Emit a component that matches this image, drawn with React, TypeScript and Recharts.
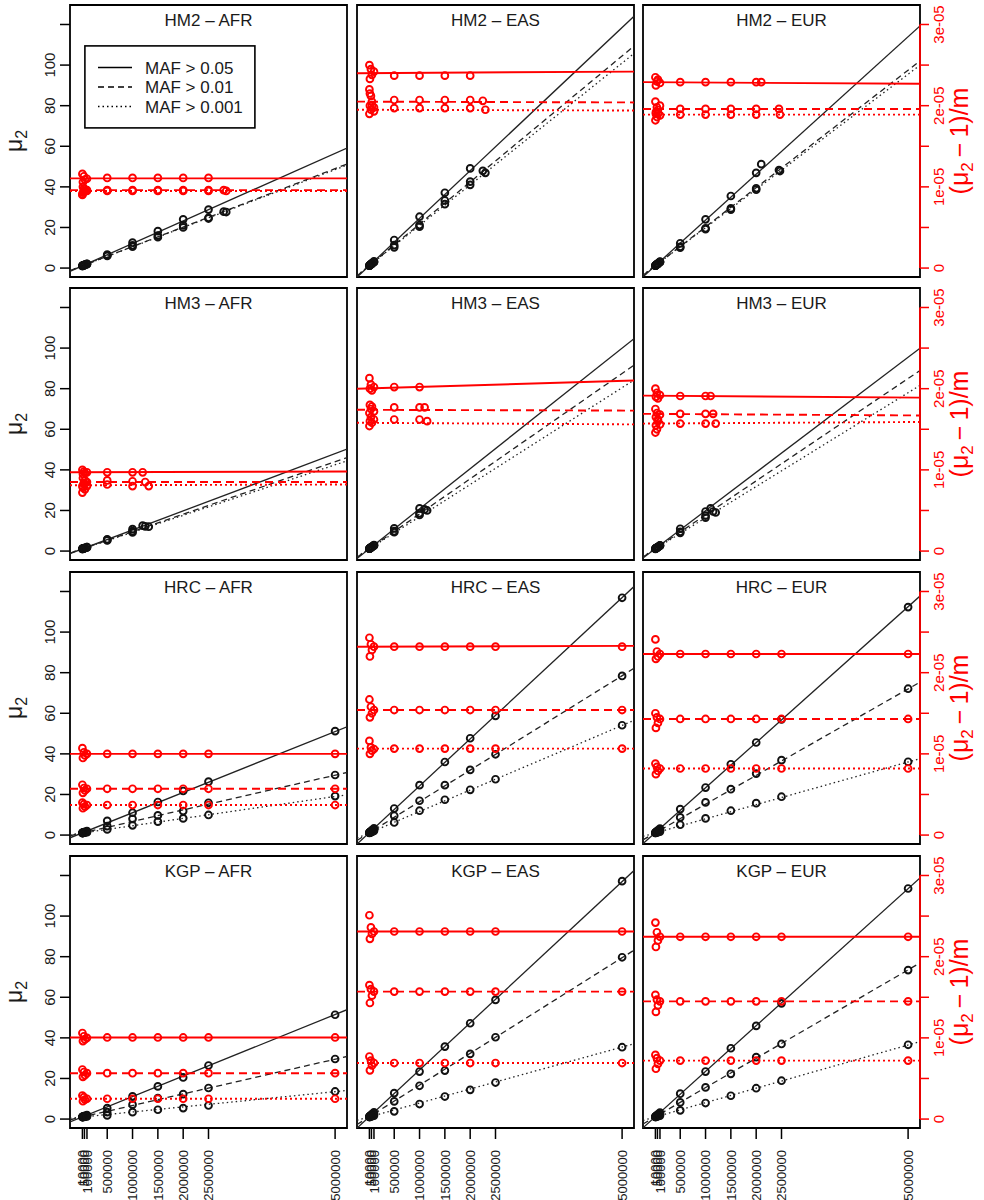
import {
    ComposedChart,
    Scatter,
    XAxis,
    YAxis,
    ReferenceLine,
    ReferenceArea,
    Legend
} from 'recharts';

const FONT = '"Liberation Sans", Arial, Helvetica, sans-serif';
const RED = '#ff0000';
const INK = '#1a1a1a';

// axis ranges (right axis is in units of 1e-5; 3e-05 sits level with 120)
const X_MIN = -235000;
const X_MAX = 5235000;
const Y_MIN = -4.4;
const Y_MAX = 129.6;
const R_MIN = Y_MIN / 40;
const R_MAX = Y_MAX / 40;

const X_TICKS = [10000, 50000, 100000, 500000, 1000000, 1500000, 2000000, 2500000, 5000000];
const Y_TICKS = [0, 20, 40, 60, 80, 100, 120];
const R_TICKS = [0, 0.5, 1, 1.5, 2, 2.5, 3];
const R_LABELS: Record<number, string> = { 0: '0', 1: '1e-05', 2: '2e-05', 3: '3e-05' };

const MAF_LABELS = ['MAF > 0.05', 'MAF > 0.01', 'MAF > 0.001'];

const SMALL_M = [10000, 20000, 40000, 60000, 100000];
const FULL_M = [10000, 20000, 40000, 60000, 100000, 500000, 1000000, 1500000, 2000000, 2500000, 5000000];

// ---- HM2 ----
const hm2AfrM = [
    [...SMALL_M, 500000, 1000000, 1500000, 2000000, 2500000],
    [...SMALL_M, 500000, 1000000, 1500000, 2000000, 2500000, 2800000],
    [...SMALL_M, 500000, 1000000, 1500000, 2000000, 2500000, 2850000],
];
const hm2AfrMu = [
    [1.1, 1.2, 1.5, 1.7, 2.1, 6.6, 12.5, 18.2, 24.0, 28.8],
    [1.1, 1.2, 1.4, 1.6, 2.0, 6.3, 11.2, 16.0, 21.0, 24.8, 27.8],
    [1.1, 1.2, 1.4, 1.6, 1.9, 6.0, 10.5, 15.2, 20.0, 24.4, 27.6],
];
const hm2AfrR = [
    [1.16, 1.06, 1.13, 1.09, 1.1, 1.11, 1.11, 1.11, 1.11, 1.11],
    [0.91, 1.0, 0.94, 0.97, 0.96, 0.96, 0.96, 0.96, 0.96, 0.96, 0.96],
    [0.9, 0.93, 0.98, 0.95, 0.95, 0.95, 0.95, 0.95, 0.95, 0.95, 0.95],
];
const hm2AfrFit = [[1, 11.1], [1, 9.6], [1, 9.5]];
const hm2AfrLevel = [[1.105, 1.105], [0.96, 0.96], [0.95, 0.95]];

const hm2EasM = [
    [...SMALL_M, 500000, 1000000, 1500000, 2000000],
    [...SMALL_M, 500000, 1000000, 1500000, 2000000, 2250000],
    [...SMALL_M, 500000, 1000000, 1500000, 2000000, 2300000],
];
const hm2EasMu = [
    [1.2, 1.5, 1.9, 2.4, 3.3, 13.8, 25.3, 37.1, 49.1],
    [1.2, 1.4, 1.8, 2.2, 3.0, 11.3, 21.2, 33.3, 42.6, 47.9],
    [1.2, 1.4, 1.8, 2.2, 2.9, 10.2, 20.4, 31.5, 41.0, 46.9],
];
const hm2EasR = [
    [2.5, 2.33, 2.45, 2.38, 2.42, 2.37, 2.37, 2.37, 2.37],
    [2.2, 2.0, 2.12, 2.05, 1.98, 2.07, 2.07, 2.07, 2.07, 2.06],
    [1.9, 2.15, 1.95, 2.0, 1.93, 1.97, 1.97, 1.97, 1.97, 1.95],
];
const hm2EasFit = [[1, 23.5], [1, 20.7], [1, 20.0]];
const hm2EasLevel = [[2.4, 2.42], [2.05, 2.04], [1.95, 1.94]];

const hm2EurM = [
    [...SMALL_M, 500000, 1000000, 1500000, 2000000, 2100000],
    [...SMALL_M, 500000, 1000000, 1500000, 2000000, 2450000],
    [...SMALL_M, 500000, 1000000, 1500000, 2000000, 2470000],
];
const hm2EurMu = [
    [1.2, 1.4, 1.9, 2.3, 3.2, 12.2, 24.0, 35.5, 46.9, 51.2],
    [1.2, 1.4, 1.8, 2.2, 3.0, 10.5, 19.6, 29.4, 39.3, 48.3],
    [1.2, 1.4, 1.8, 2.1, 2.9, 10.1, 19.2, 28.8, 38.6, 47.8],
];
const hm2EurR = [
    [2.35, 2.25, 2.3, 2.32, 2.28, 2.29, 2.29, 2.29, 2.29, 2.29],
    [2.05, 1.9, 1.98, 1.95, 2.0, 1.96, 1.96, 1.96, 1.96, 1.96],
    [1.82, 1.92, 1.86, 1.9, 1.88, 1.89, 1.89, 1.89, 1.89, 1.89],
];
const hm2EurFit = [[1, 22.6], [1, 19.3], [1, 18.9]];
const hm2EurLevel = [[2.29, 2.27], [1.96, 1.96], [1.89, 1.89]];

// ---- HM3 ----
const hm3AfrM = [
    [...SMALL_M, 500000, 1000000, 1200000],
    [...SMALL_M, 500000, 1000000, 1250000],
    [...SMALL_M, 500000, 1000000, 1320000],
];
const hm3AfrMu = [
    [1.1, 1.2, 1.4, 1.6, 1.9, 5.8, 10.8, 12.5],
    [1.1, 1.2, 1.4, 1.5, 1.9, 5.5, 9.8, 12.2],
    [1.1, 1.2, 1.3, 1.5, 1.8, 5.2, 9.2, 12.0],
];
const hm3AfrR = [
    [1.0, 0.95, 0.98, 0.96, 0.97, 0.97, 0.97, 0.97],
    [0.8, 0.9, 0.84, 0.87, 0.85, 0.87, 0.86, 0.85],
    [0.72, 0.78, 0.83, 0.76, 0.8, 0.82, 0.8, 0.8],
];
const hm3AfrFit = [[1, 9.4], [1, 8.6], [1, 8.3]];
const hm3AfrLevel = [[0.97, 0.98], [0.85, 0.85], [0.81, 0.82]];

const hm3EasM = [
    [...SMALL_M, 500000, 1000000],
    [...SMALL_M, 500000, 1000000, 1100000],
    [...SMALL_M, 500000, 1000000, 1150000],
];
const hm3EasMu = [
    [1.2, 1.4, 1.8, 2.2, 3.0, 11.2, 21.0],
    [1.2, 1.4, 1.7, 2.1, 2.8, 9.8, 18.6, 20.5],
    [1.2, 1.3, 1.7, 2.0, 2.7, 9.3, 17.8, 20.0],
];
const hm3EasR = [
    [2.13, 2.0, 2.05, 1.98, 2.02, 2.02, 2.02],
    [1.7, 1.8, 1.75, 1.78, 1.72, 1.77, 1.77, 1.77],
    [1.54, 1.6, 1.65, 1.58, 1.62, 1.62, 1.62, 1.6],
];
const hm3EasFit = [[1, 19.8], [1, 17.3], [1, 15.9]];
const hm3EasLevel = [[2.0, 2.1], [1.74, 1.73], [1.58, 1.56]];

const hm3EurM = [
    [...SMALL_M, 500000, 1000000, 1100000],
    [...SMALL_M, 500000, 1000000, 1150000],
    [...SMALL_M, 500000, 1000000, 1200000],
];
const hm3EurMu = [
    [1.2, 1.4, 1.7, 2.1, 2.8, 11.0, 19.5, 21.0],
    [1.2, 1.4, 1.7, 2.0, 2.7, 9.5, 17.5, 19.5],
    [1.1, 1.3, 1.6, 1.9, 2.6, 9.0, 16.5, 19.0],
];
const hm3EurR = [
    [2.0, 1.9, 1.95, 1.88, 1.92, 1.91, 1.91, 1.91],
    [1.75, 1.65, 1.7, 1.62, 1.68, 1.69, 1.69, 1.69],
    [1.46, 1.55, 1.5, 1.6, 1.56, 1.57, 1.57, 1.57],
];
const hm3EurFit = [[1, 18.9], [1, 16.8], [1, 15.4]];
const hm3EurLevel = [[1.915, 1.89], [1.69, 1.67], [1.57, 1.59]];

// ---- HRC ----
const hrcAfrMu = [
    [1.1, 1.2, 1.4, 1.6, 2.0, 7.0, 11.0, 16.3, 21.7, 26.3, 51.2],
    [1.1, 1.1, 1.3, 1.4, 1.6, 4.4, 8.0, 9.7, 11.8, 15.9, 29.6],
    [1.0, 1.1, 1.2, 1.3, 1.4, 2.8, 4.8, 6.6, 8.2, 9.9, 19.2],
];
const hrcAfrR = [
    [1.07, 0.95, 1.02, 0.98, 1.0, 1.0, 1.0, 1.0, 1.0, 1.0, 1.0],
    [0.62, 0.52, 0.58, 0.55, 0.57, 0.57, 0.57, 0.57, 0.57, 0.57, 0.57],
    [0.4, 0.33, 0.38, 0.35, 0.37, 0.37, 0.37, 0.37, 0.37, 0.37, 0.37],
];
const hrcAfrFit = [[1, 10.0], [1, 5.7], [1, 3.6]];
const hrcAfrLevel = [[1.0, 1.0], [0.57, 0.57], [0.37, 0.37]];

const hrcEasMu = [
    [1.2, 1.5, 1.9, 2.4, 3.3, 13.1, 24.6, 36.0, 47.7, 58.7, 116.9],
    [1.2, 1.3, 1.6, 1.9, 2.5, 9.5, 16.9, 24.6, 32.1, 39.8, 78.4],
    [1.1, 1.2, 1.4, 1.6, 2.1, 6.2, 12.0, 17.4, 22.3, 27.5, 54.1],
];
const hrcEasR = [
    [2.43, 2.2, 2.35, 2.28, 2.32, 2.32, 2.32, 2.32, 2.32, 2.32, 2.32],
    [1.67, 1.45, 1.58, 1.5, 1.54, 1.54, 1.54, 1.54, 1.54, 1.54, 1.54],
    [1.16, 1.0, 1.08, 1.04, 1.06, 1.065, 1.065, 1.065, 1.065, 1.065, 1.065],
];
const hrcEasFit = [[1, 23.2], [1, 15.5], [1, 10.6]];
const hrcEasLevel = [[2.32, 2.33], [1.54, 1.54], [1.065, 1.065]];

const hrcEurMu = [
    [1.2, 1.4, 1.9, 2.3, 3.2, 12.8, 23.4, 34.9, 45.6, 57.0, 112.3],
    [1.1, 1.3, 1.6, 1.8, 2.4, 8.7, 16.1, 22.6, 30.3, 36.9, 72.1],
    [1.1, 1.2, 1.3, 1.4, 1.7, 5.1, 8.2, 12.0, 15.7, 18.9, 36.1],
];
const hrcEurR = [
    [2.41, 2.17, 2.26, 2.2, 2.23, 2.23, 2.23, 2.23, 2.23, 2.23, 2.23],
    [1.5, 1.32, 1.45, 1.38, 1.43, 1.43, 1.43, 1.43, 1.43, 1.43, 1.43],
    [0.88, 0.75, 0.84, 0.79, 0.82, 0.82, 0.82, 0.82, 0.82, 0.82, 0.82],
];
const hrcEurFit = [[1, 22.3], [1, 14.2], [1, 7.0]];
const hrcEurLevel = [[2.23, 2.23], [1.43, 1.43], [0.82, 0.82]];

// ---- KGP ----
const kgpAfrMu = [
    [1.1, 1.2, 1.4, 1.6, 2.0, 5.4, 11.2, 16.1, 20.5, 26.4, 51.4],
    [1.0, 1.1, 1.2, 1.3, 1.6, 3.4, 7.1, 10.3, 12.3, 15.3, 29.6],
    [1.0, 1.1, 1.1, 1.2, 1.3, 1.8, 3.4, 4.6, 5.4, 6.7, 13.6],
];
const kgpAfrR = [
    [1.06, 0.96, 1.02, 0.98, 1.0, 1.005, 1.005, 1.005, 1.005, 1.005, 1.005],
    [0.61, 0.52, 0.58, 0.54, 0.565, 0.565, 0.565, 0.565, 0.565, 0.565, 0.565],
    [0.29, 0.22, 0.27, 0.24, 0.25, 0.25, 0.25, 0.25, 0.25, 0.25, 0.25],
];
const kgpAfrFit = [[1, 10.1], [1, 5.7], [1, 2.5]];
const kgpAfrLevel = [[1.005, 1.005], [0.565, 0.565], [0.25, 0.25]];

const kgpEasMu = [
    [1.2, 1.5, 1.9, 2.4, 3.3, 12.8, 23.4, 35.7, 47.2, 58.7, 117.2],
    [1.2, 1.3, 1.6, 1.9, 2.5, 8.7, 16.4, 23.9, 32.1, 40.3, 79.7],
    [1.0, 1.1, 1.3, 1.4, 1.7, 3.8, 7.4, 11.1, 14.4, 18.0, 35.4],
];
const kgpEasR = [
    [2.51, 2.22, 2.36, 2.28, 2.31, 2.31, 2.31, 2.31, 2.31, 2.31, 2.31],
    [1.65, 1.43, 1.6, 1.52, 1.57, 1.57, 1.57, 1.57, 1.57, 1.57, 1.57],
    [0.77, 0.6, 0.72, 0.66, 0.69, 0.69, 0.69, 0.69, 0.69, 0.69, 0.69],
];
const kgpEasFit = [[1, 23.2], [1, 15.7], [1, 6.9]];
const kgpEasLevel = [[2.31, 2.31], [1.57, 1.57], [0.69, 0.69]];

const kgpEurMu = [
    [1.2, 1.4, 1.9, 2.3, 3.2, 12.5, 23.4, 34.9, 45.9, 57.0, 113.6],
    [1.1, 1.3, 1.6, 1.9, 2.4, 8.2, 15.6, 22.3, 30.5, 37.0, 73.4],
    [1.1, 1.1, 1.3, 1.4, 1.7, 4.3, 7.9, 11.5, 15.2, 18.9, 36.6],
];
const kgpEurR = [
    [2.42, 2.12, 2.3, 2.2, 2.245, 2.245, 2.245, 2.245, 2.245, 2.245, 2.245],
    [1.53, 1.32, 1.47, 1.4, 1.45, 1.45, 1.45, 1.45, 1.45, 1.45, 1.45],
    [0.79, 0.62, 0.75, 0.68, 0.72, 0.72, 0.72, 0.72, 0.72, 0.72, 0.72],
];
const kgpEurFit = [[1, 22.5], [1, 14.5], [1, 7.1]];
const kgpEurLevel = [[2.245, 2.245], [1.45, 1.45], [0.72, 0.72]];

const FULL3 = [FULL_M, FULL_M, FULL_M];

const PANELS = [
    { title: 'HM2 \u2013 AFR', m: hm2AfrM, mu: hm2AfrMu, r: hm2AfrR, fit: hm2AfrFit, level: hm2AfrLevel },
    { title: 'HM2 \u2013 EAS', m: hm2EasM, mu: hm2EasMu, r: hm2EasR, fit: hm2EasFit, level: hm2EasLevel },
    { title: 'HM2 \u2013 EUR', m: hm2EurM, mu: hm2EurMu, r: hm2EurR, fit: hm2EurFit, level: hm2EurLevel },
    { title: 'HM3 \u2013 AFR', m: hm3AfrM, mu: hm3AfrMu, r: hm3AfrR, fit: hm3AfrFit, level: hm3AfrLevel },
    { title: 'HM3 \u2013 EAS', m: hm3EasM, mu: hm3EasMu, r: hm3EasR, fit: hm3EasFit, level: hm3EasLevel },
    { title: 'HM3 \u2013 EUR', m: hm3EurM, mu: hm3EurMu, r: hm3EurR, fit: hm3EurFit, level: hm3EurLevel },
    { title: 'HRC \u2013 AFR', m: FULL3, mu: hrcAfrMu, r: hrcAfrR, fit: hrcAfrFit, level: hrcAfrLevel },
    { title: 'HRC \u2013 EAS', m: FULL3, mu: hrcEasMu, r: hrcEasR, fit: hrcEasFit, level: hrcEasLevel },
    { title: 'HRC \u2013 EUR', m: FULL3, mu: hrcEurMu, r: hrcEurR, fit: hrcEurFit, level: hrcEurLevel },
    { title: 'KGP \u2013 AFR', m: FULL3, mu: kgpAfrMu, r: kgpAfrR, fit: kgpAfrFit, level: kgpAfrLevel },
    { title: 'KGP \u2013 EAS', m: FULL3, mu: kgpEasMu, r: kgpEasR, fit: kgpEasFit, level: kgpEasLevel },
    { title: 'KGP \u2013 EUR', m: FULL3, mu: kgpEurMu, r: kgpEurR, fit: kgpEurFit, level: kgpEurLevel },
];

// layout of the plot frames on the page
const FRAME_X = [70, 357, 643];
const FRAME_Y = [5, 288, 572, 856];
const FW = 277;
const FH = 272;

const BLACK_DASH = [undefined, '6 4', '1.5 3'];
const RED_DASH = [undefined, '8 5', '2 3'];

const ring = (color: string) => (props: any) => (
    <circle cx={props.cx} cy={props.cy} r={3.4} fill="none" stroke={color} strokeWidth={1.9} />
);

function LeftTick(props: any) {
    const { y, payload } = props;
    if (payload.value === 120) return <g />;
    return (
        <text x={55.4} y={y} transform={`rotate(-90 55.4 ${y})`} textAnchor="middle"
            fontSize={15} fill={INK} fontFamily={FONT}>
            {payload.value}
        </text>
    );
}

function makeRightTick(frameRight: number) {
    return (props: any) => {
        const { y, payload } = props;
        const label = R_LABELS[payload.value];
        if (!label) return <g />;
        const bx = frameRight + 24.4;
        return (
            <text x={bx} y={y} transform={`rotate(-90 ${bx} ${y})`} textAnchor="middle"
                fontSize={15} fill={RED} fontFamily={FONT}>
                {label}
            </text>
        );
    };
}

function makeBottomTick(top: number) {
    return (props: any) => {
        const { x, payload } = props;
        const bx = x + 4.7;
        return (
            <text x={bx} y={top} transform={`rotate(-90 ${bx} ${top})`} textAnchor="end"
                fontSize={13} fill={INK} fontFamily={FONT}>
                {String(payload.value)}
            </text>
        );
    };
}

function MuLabel(props: any) {
    const vb = props.viewBox;
    const bx = vb.x + 21.5;
    const cy = vb.y + vb.height / 2;
    return (
        <text x={bx} y={cy} transform={`rotate(-90 ${bx} ${cy})`} textAnchor="middle"
            fontSize={23} fill={INK} fontFamily={FONT}>
            μ<tspan fontSize={16} dy={5}>2</tspan>
        </text>
    );
}

function RedLabel(props: any) {
    const vb = props.viewBox;
    const bx = vb.x + 48;
    const cy = vb.y + vb.height / 2;
    return (
        <text x={bx} y={cy} transform={`rotate(-90 ${bx} ${cy})`} textAnchor="middle"
            fontSize={25} fill={RED} fontFamily={FONT}>
            (μ<tspan fontSize={17} dy={5}>2</tspan><tspan dy={-5}>{'\u2009\u2212\u20091)/m'}</tspan>
        </text>
    );
}

function MafLegend() {
    const rows = [22.5, 42, 61.5];
    return (
        <svg width={172} height={84} style={{ display: 'block' }}>
            <rect x={0.9} y={0.9} width={170} height={82} fill="#fff" stroke="#000" strokeWidth={1.6} />
            {MAF_LABELS.map((label, i) => (
                <g key={label}>
                    <line x1={14} x2={48} y1={rows[i]} y2={rows[i]} stroke="#000" strokeWidth={1.4}
                        strokeDasharray={BLACK_DASH[i]} />
                    <text x={61} y={rows[i] + 6} fontSize={17} fill={INK} fontFamily={FONT}>{label}</text>
                </g>
            ))}
        </svg>
    );
}

function Panel({ idx }: { idx: number }) {
    const p = PANELS[idx];
    const row = Math.floor(idx / 3);
    const col = idx % 3;
    const showLeft = col === 0;
    const showRight = col === 2;
    const showBottom = row === 3;
    const padL = showLeft ? 70 : 6;
    const padR = showRight ? 65 : 6;
    const padT = 6;
    const padB = showBottom ? 72 : 6;
    const left = FRAME_X[col] - padL;
    const top = FRAME_Y[row] - padT;

    return (
        <div style={{ position: 'absolute', left, top }}>
            <ComposedChart
                width={padL + FW + padR}
                height={padT + FH + padB}
                margin={{
                    top: padT,
                    bottom: showBottom ? 0 : padB,
                    left: showLeft ? 0 : padL,
                    right: showRight ? 0 : padR,
                }}
            >
                <XAxis type="number" dataKey="x" domain={[X_MIN, X_MAX]} allowDataOverflow
                    ticks={X_TICKS} interval={0} hide={!showBottom} height={72} tickSize={11}
                    axisLine={false} tickLine={{ stroke: '#000', strokeWidth: 1.5 }}
                    tick={makeBottomTick(padT + FH + 22)} />
                <YAxis yAxisId="l" type="number" dataKey="y" domain={[Y_MIN, Y_MAX]} allowDataOverflow
                    ticks={Y_TICKS} interval={0} hide={!showLeft} width={70} tickSize={10}
                    axisLine={false} tickLine={{ stroke: '#000', strokeWidth: 1.5 }}
                    tick={LeftTick} label={MuLabel} />
                <YAxis yAxisId="r" orientation="right" type="number" dataKey="y" domain={[R_MIN, R_MAX]}
                    allowDataOverflow ticks={R_TICKS} interval={0} hide={!showRight} width={65} tickSize={9}
                    axisLine={false} tickLine={{ stroke: RED, strokeWidth: 1.5 }}
                    tick={makeRightTick(padL + FW)} label={RedLabel} />

                <ReferenceArea yAxisId="l" x1={X_MIN} x2={X_MAX} y1={Y_MIN} y2={Y_MAX}
                    fill="none" stroke="#000" strokeWidth={1.8} ifOverflow="visible"
                    label={{ value: p.title, position: 'insideTop', offset: 9, fontSize: 17, fill: INK, fontFamily: FONT }} />

                {p.fit.map(([a, b], i) => (
                    <ReferenceLine key={`fit${i}`} yAxisId="l" ifOverflow="hidden"
                        segment={[{ x: X_MIN, y: a + (b * X_MIN) / 1e6 }, { x: X_MAX, y: a + (b * X_MAX) / 1e6 }]}
                        stroke="#222" strokeWidth={1.3} strokeDasharray={BLACK_DASH[i]} />
                ))}
                {p.level.map(([l0, l1], i) => (
                    <ReferenceLine key={`lev${i}`} yAxisId="r" ifOverflow="hidden"
                        segment={[{ x: X_MIN, y: l0 }, { x: X_MAX, y: l1 }]}
                        stroke={RED} strokeWidth={1.9} strokeDasharray={RED_DASH[i]} />
                ))}

                {p.m.map((ms, i) => (
                    <Scatter key={`b${i}`} yAxisId="l" isAnimationActive={false}
                        data={ms.map((x, j) => ({ x, y: p.mu[i][j] }))} shape={ring('#111')} />
                ))}
                {p.m.map((ms, i) => (
                    <Scatter key={`r${i}`} yAxisId="r" isAnimationActive={false}
                        data={ms.map((x, j) => ({ x, y: p.r[i][j] }))} shape={ring(RED)} />
                ))}

                {showRight && (
                    <ReferenceLine yAxisId="r" ifOverflow="visible"
                        segment={[{ x: X_MAX, y: 0 }, { x: X_MAX, y: 3 }]} stroke={RED} strokeWidth={1.8} />
                )}

                {idx === 0 && (
                    <Legend layout="vertical" align="center" verticalAlign="middle"
                        content={<MafLegend />}
                        wrapperStyle={{ position: 'absolute', left: 84 - left, top: 45 - top, width: 172, height: 84 }} />
                )}
            </ComposedChart>
        </div>
    );
}

export default function App() {
    return (
        <div style={{ position: 'absolute', left: 0, top: 0, width: 984, height: 1200, background: '#fff', overflow: 'hidden' }}>
            {PANELS.map((_, i) => (
                <Panel key={i} idx={i} />
            ))}
        </div>
    );
}
